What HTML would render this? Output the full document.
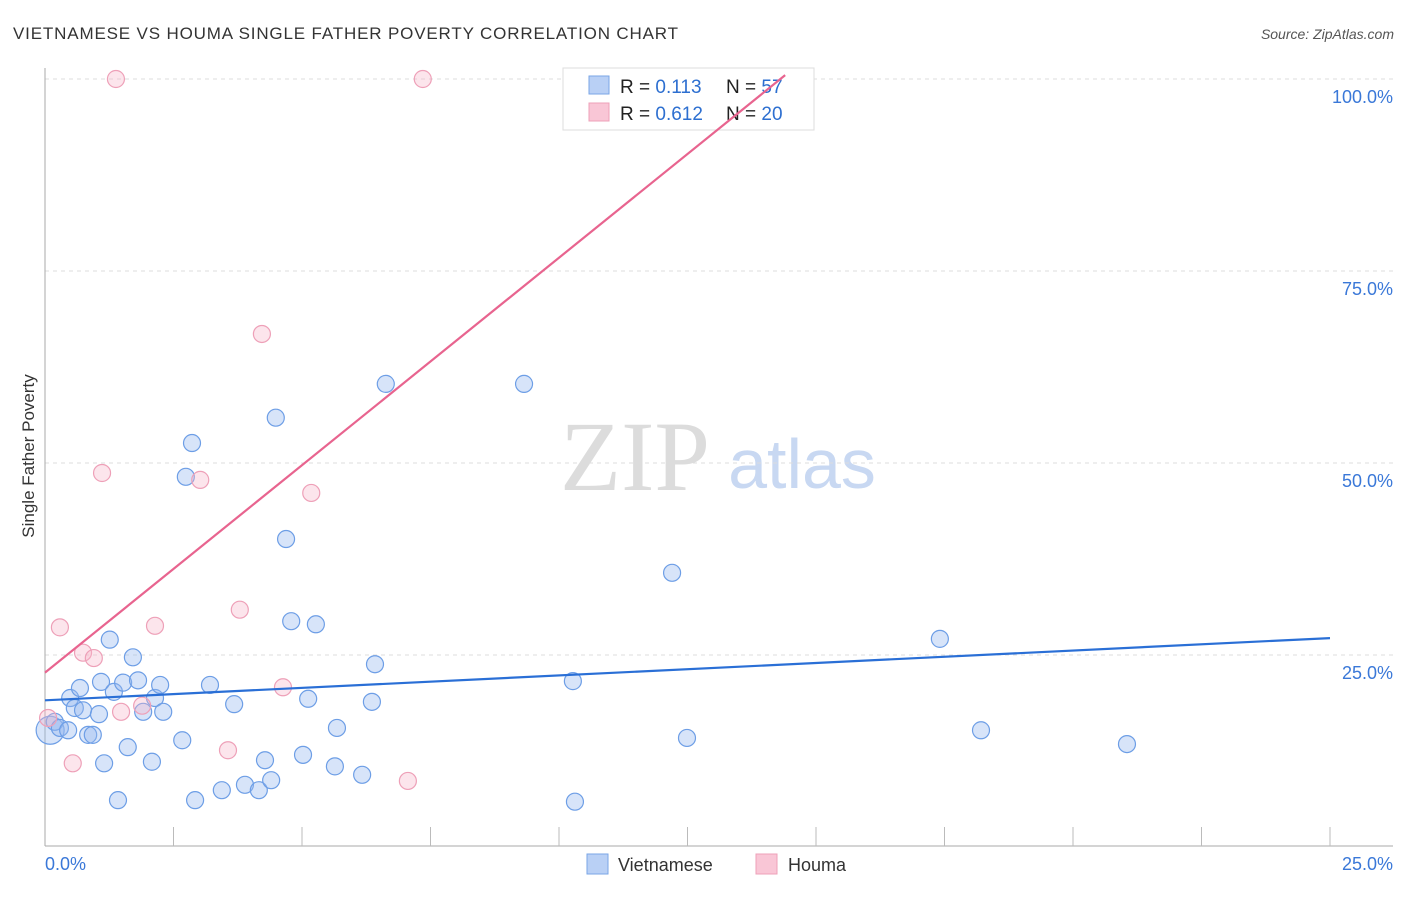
<!DOCTYPE html>
<html><head><meta charset="utf-8"><style>
body{margin:0;background:#fff;font-family:"Liberation Sans",sans-serif;}
</style></head><body>
<svg id="chart" width="1406" height="892" xmlns="http://www.w3.org/2000/svg" font-family="Liberation Sans, sans-serif">
<text x="13" y="39" font-size="17" fill="#333" textLength="665" lengthAdjust="spacing">VIETNAMESE VS HOUMA SINGLE FATHER POVERTY CORRELATION CHART</text>
<text x="1394" y="39" font-size="14" fill="#555" font-style="italic" text-anchor="end">Source: ZipAtlas.com</text>
<g>
<text x="635" y="490" font-size="100" fill="#dcdcdc" style="font-family:'Liberation Serif',serif" text-anchor="middle">ZIP</text>
<text x="802" y="488" font-size="70" fill="#c8d8f2" text-anchor="middle">atlas</text>
</g>
<g id="grid"></g>
<g id="axes"></g>
<text transform="translate(34,456) rotate(-90)" font-size="17" fill="#333" text-anchor="middle">Single Father Poverty</text>
<g>
<rect x="563" y="68" width="251" height="62" fill="#fff" stroke="#ddd"/>
<rect x="589" y="76" width="20" height="18" fill="#b9d0f5" stroke="#7aa6e6"/>
<rect x="589" y="103" width="20" height="18" fill="#f9c6d6" stroke="#eea0b8"/>
<text x="620" y="93" font-size="19" fill="#222">R = <tspan fill="#2d6fd0">0.113</tspan></text>
<text x="726" y="93" font-size="19" fill="#222">N = <tspan fill="#2d6fd0">57</tspan></text>
<text x="620" y="120" font-size="19" fill="#222">R = <tspan fill="#2d6fd0">0.612</tspan></text>
<text x="726" y="120" font-size="19" fill="#222">N = <tspan fill="#2d6fd0">20</tspan></text>
</g>
<g id="marks"></g>
<g>
<rect x="587" y="854" width="21" height="20" fill="#b9d0f5" stroke="#7aa6e6"/>
<text x="618" y="871" font-size="18" fill="#333">Vietnamese</text>
<rect x="756" y="854" width="21" height="20" fill="#f9c6d6" stroke="#eea0b8"/>
<text x="788" y="871" font-size="18" fill="#333">Houma</text>
</g>
</svg>
<script>
const xTicks=[0,2.5,5,7.5,10,12.5,15,17.5,20,22.5,25];
const yTicks=[25,50,75,100];
const yTickLabels=["25.0%","50.0%","75.0%","100.0%"];
const blueX=[0.1,0.19,0.29,0.45,0.49,0.58,0.68,0.74,0.84,0.93,1.05,1.09,1.15,1.26,1.34,1.42,1.52,1.61,1.71,1.81,1.91,2.08,2.14,2.24,2.30,2.67,2.74,2.86,2.92,3.21,3.44,3.68,3.89,4.16,4.28,4.40,4.49,4.69,4.79,5.02,5.12,5.27,5.64,5.68,6.17,6.36,6.42,6.63,9.32,10.27,10.31,12.20,12.49,17.41,18.21,21.05];
const blueY=[15.2,16.3,15.5,15.2,19.4,18.1,20.7,17.8,14.6,14.6,17.3,21.5,10.9,27.0,20.2,6.1,21.4,13.0,24.7,21.7,17.6,11.1,19.4,21.1,17.6,13.9,48.2,52.6,6.1,21.1,7.4,18.6,8.1,7.4,11.3,8.7,55.9,40.1,29.4,12.0,19.3,29.0,10.5,15.5,9.4,18.9,23.8,60.3,60.3,21.6,5.9,35.7,14.2,27.1,15.2,13.4];
const pinkX=[0.06,0.29,0.54,0.74,0.95,1.11,1.38,1.48,1.89,2.14,3.02,3.56,3.79,4.22,4.63,5.18,7.06,7.35];
const pinkY=[16.8,28.6,10.9,25.3,24.6,48.7,100,17.6,18.4,28.8,47.8,12.6,30.9,66.8,20.8,46.1,8.6,100];
const blueTrend=[[0,19.1],[25,27.2]];
const pinkTrend=[[0,22.7],[14.4,100.5]];
const NS="http://www.w3.org/2000/svg";
const X=v=>45+v*51.4, Y=v=>847-v*7.68;
function mk(tag,attrs,parent){const e=document.createElementNS(NS,tag);for(const k in attrs)e.setAttribute(k,attrs[k]);document.getElementById(parent).appendChild(e);return e;}
yTicks.forEach((t,i)=>{
 const l=mk('line',{x1:45,x2:1393,y1:Y(t),y2:Y(t),stroke:'#ddd','stroke-dasharray':'4,4'},'grid');
 
 
 const tx=mk('text',{x:1393,y:Y(t)+24,'font-size':18,fill:'#3a78d8','text-anchor':'end'},'grid');
 tx.textContent=yTickLabels[i];
 
 
});
const ya=mk('line',{x1:45,x2:45,y1:68,y2:846,stroke:'#aaa'},'axes');


const xa=mk('line',{x1:45,x2:1393,y1:846,y2:846,stroke:'#aaa'},'axes');


xTicks.forEach(t=>{if(t===0)return;const l=mk('line',{x1:X(t),x2:X(t),y1:827,y2:846,stroke:'#bbb'},'axes');
 
 });
const x0=mk('text',{x:45,y:870,'font-size':18,fill:'#3a78d8'},'axes');x0.textContent='0.0%';


const x1=mk('text',{x:1393,y:870,'font-size':18,fill:'#3a78d8','text-anchor':'end'},'axes');x1.textContent='25.0%';


blueX.forEach((v,i)=>{const c=mk('circle',{cx:X(v),cy:Y(blueY[i]),r:i===0?14:8.5,fill:'rgba(150,185,240,0.38)',stroke:'#6d9ee6','stroke-width':1.2},'marks');
 
 });
pinkX.forEach((v,i)=>{const c=mk('circle',{cx:X(v),cy:Y(pinkY[i]),r:8.5,fill:'rgba(246,180,200,0.35)',stroke:'#eea0b8','stroke-width':1.2},'marks');
 
 });
const bl=mk('line',{x1:X(blueTrend[0][0]),y1:Y(blueTrend[0][1]),x2:X(blueTrend[1][0]),y2:Y(blueTrend[1][1]),stroke:'#2a6fd6','stroke-width':2.2},'marks');


const pl=mk('line',{x1:X(pinkTrend[0][0]),y1:Y(pinkTrend[0][1]),x2:X(pinkTrend[1][0]),y2:Y(pinkTrend[1][1]),stroke:'#e8648f','stroke-width':2.2},'marks');


</script>
</body></html>
